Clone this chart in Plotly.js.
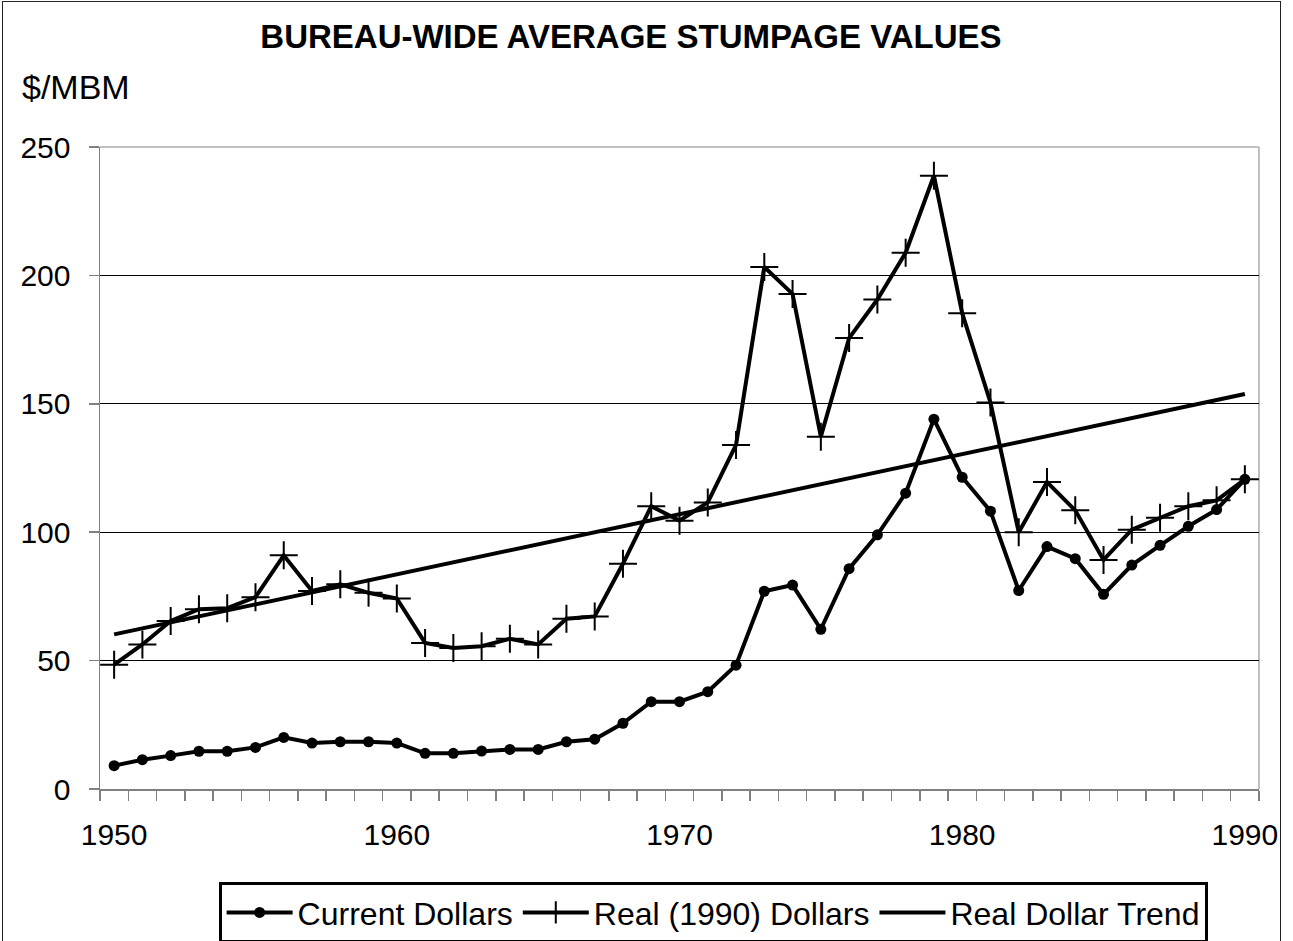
<!DOCTYPE html>
<html>
<head>
<meta charset="utf-8">
<script src="https://cdn.plot.ly/plotly-3.0.1.min.js"></script>
<style>
  html, body { margin: 0; padding: 0; background: #fff; }
  #chart { width: 1293px; height: 941px; position: relative; }
  #frame { position: absolute; left: 2px; top: 1px; width: 1279px; height: 960px;
           border: 1.5px solid #222; pointer-events: none; box-sizing: border-box; }
</style>
</head>
<body>
<div id="chart"></div>
<div id="frame"></div>
<script>
// ---- data ----
const years = [1950,1951,1952,1953,1954,1955,1956,1957,1958,1959,
               1960,1961,1962,1963,1964,1965,1966,1967,1968,1969,
               1970,1971,1972,1973,1974,1975,1976,1977,1978,1979,
               1980,1981,1982,1983,1984,1985,1986,1987,1988,1989,1990];
const currentDollars = [9.1,11.4,13,14.7,14.7,16.2,20.1,17.9,18.4,18.4,
                        17.9,13.9,13.9,14.8,15.4,15.4,18.4,19.4,25.6,34,
                        34,37.9,48.2,77,79.4,62.2,85.8,99,115.2,144,
                        121.4,108.2,77.3,94.4,89.7,75.8,87.2,94.9,102.3,108.8,120.6];
const realDollars = [48.4,56.3,65.4,70,70.4,74.7,91,77.1,79.7,76.4,
                     74.2,56.9,54.9,55.6,58.5,56.3,66.3,67.2,87.7,110.1,
                     104.5,111.6,134,203.3,192.8,137.2,175.6,190.6,208.8,238.8,
                     185.3,150.5,100,119.5,108.5,89.2,101,105.6,110.1,112.4,120.6];
const trendYears = [1950, 1990];
const trendValues = [60.2, 153.8];
const xTickLabels = [1950, 1960, 1970, 1980, 1990];
const yTickLabels = [0, 50, 100, 150, 200, 250];
const seriesNames = ['Current Dollars', 'Real (1990) Dollars', 'Real Dollar Trend'];

const FONT = 'Liberation Sans, Arial, sans-serif';

const traces = [
  {
    x: years, y: currentDollars, name: seriesNames[0], type: 'scatter', mode: 'lines+markers',
    line: {color: '#000', width: 4},
    marker: {symbol: 'circle', size: 11, color: '#000'}
  },
  {
    x: years, y: realDollars, name: seriesNames[1], type: 'scatter', mode: 'lines+markers',
    line: {color: '#000', width: 4},
    marker: {symbol: 'cross-thin-open', size: 20, color: '#000', line: {color: '#000', width: 2}}
  },
  {
    x: trendYears, y: trendValues, name: seriesNames[2], type: 'scatter', mode: 'lines',
    line: {color: '#000', width: 4}
  }
];

const layout = {
  width: 1293, height: 941,
  margin: {l: 100, r: 34, t: 147, b: 152, autoexpand: false},
  paper_bgcolor: '#fff', plot_bgcolor: '#fff',
  font: {family: FONT, color: '#000', size: 30},
  title: {
    text: '<b>BUREAU-WIDE AVERAGE STUMPAGE VALUES</b>',
    font: {family: FONT, size: 33, color: '#000'},
    x: 0.488, xref: 'container', xanchor: 'center',
    y: 0.961, yref: 'container', yanchor: 'middle'
  },
  xaxis: {
    range: [1949.5, 1990.5],
    tickvals: xTickLabels,
    ticktext: xTickLabels.map(String),
    ticks: '',
    ticklabelstandoff: 18,
    showline: true, linecolor: '#808080', linewidth: 1.5,
    showgrid: false, zeroline: false,
    tickfont: {family: FONT, size: 30, color: '#000'},
    minor: {tick0: 1949.5, dtick: 1, ticks: 'outside', ticklen: 10, tickcolor: '#808080', tickwidth: 1.5, showgrid: false}
  },
  yaxis: {
    range: [0, 250],
    tickvals: yTickLabels,
    ticks: 'outside', ticklen: 10, tickcolor: '#808080', tickwidth: 1.5,
    ticklabelstandoff: 12,
    showline: true, linecolor: '#808080', linewidth: 1.5,
    showgrid: true, gridcolor: '#000', gridwidth: 1,
    zeroline: false,
    tickfont: {family: FONT, size: 30, color: '#000'}
  },
  shapes: [
    {type: 'line', xref: 'paper', yref: 'paper', x0: 0, x1: 1, y0: 1, y1: 1,
     line: {color: '#c0c0c0', width: 2}, layer: 'between'},
    {type: 'line', xref: 'paper', yref: 'paper', x0: 1, x1: 1, y0: 0, y1: 1,
     line: {color: '#c0c0c0', width: 2}, layer: 'between'}
  ],
  annotations: [
    {text: '$/MBM', xref: 'paper', yref: 'paper', x: (20 - 100) / 1159, y: (790 - 88) / 642,
     xanchor: 'left', yanchor: 'middle', showarrow: false,
     font: {family: FONT, size: 34, color: '#000'}}
  ],
  legend: {
    orientation: 'h',
    x: 0.529, xanchor: 'center',
    y: -0.145, yanchor: 'top',
    bordercolor: '#000', borderwidth: 3,
    bgcolor: '#fff',
    font: {family: FONT, size: 32, color: '#000'},
    itemwidth: 66,
    traceorder: 'normal'
  },
  showlegend: true
};

Plotly.newPlot('chart', traces, layout, {displayModeBar: false, staticPlot: true});
</script>
</body>
</html>
